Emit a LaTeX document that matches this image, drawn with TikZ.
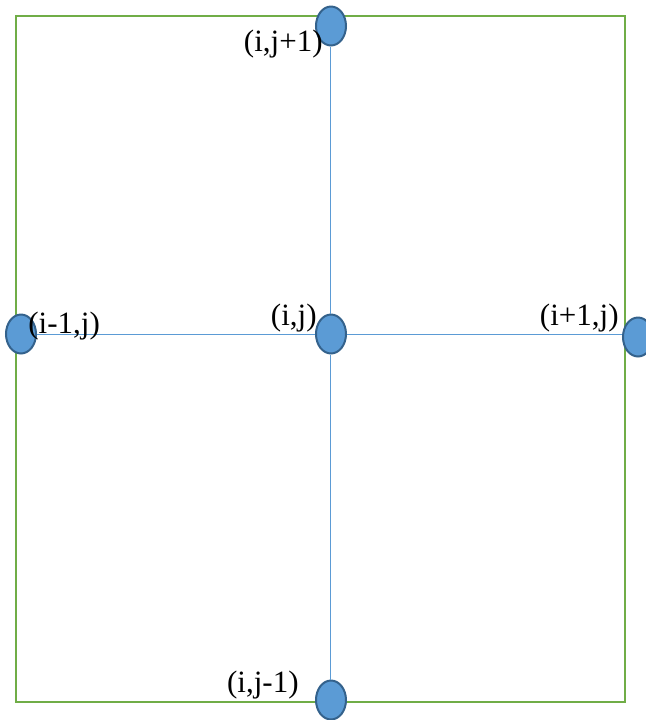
\documentclass[tikz,border=0pt]{standalone}
\usepackage{fontspec}
\setmainfont{Liberation Serif}
\usetikzlibrary{shapes.geometric}
\definecolor{framegreen}{RGB}{112,173,71}
\definecolor{dotblue}{RGB}{91,155,213}
\definecolor{dotedge}{RGB}{52,98,140}
\tikzstyle{gridpt} = [ellipse, fill=dotblue, draw=dotedge, line width=1pt, minimum width=15pt, minimum height=19.5pt, inner sep=0pt]
\tikzstyle{lbl} = [inner sep=0pt, font=\fontsize{15.5pt}{18pt}\selectfont]
\tikzstyle{link} = [draw=dotblue, line width=0.5pt]
\begin{document}
\begin{tikzpicture}[x=0.5pt, y=-0.5pt]
\useasboundingbox (0,0) rectangle (645,720);
%kader
\draw[framegreen, line width=1pt] (16,16) rectangle (625,702);
%punten
\node[gridpt] (top) at (331,26) {};
\node[gridpt] (left) at (21,334) {};
\node[gridpt] (mid) at (331,334) {};
\node[gridpt] (right) at (638,337) {};
\node[gridpt] (bottom) at (331,700) {};
%lijnen
\draw[link] (left) -- (mid);
\draw[link] (mid) -- (mid -| right.west);
\draw[link] (top) -- (mid);
\draw[link] (mid) -- (bottom);
%labels
\node[lbl, anchor=east] (ltop) at (323,44) {(i,j+1)};
\node[lbl, anchor=west] (lleft) at (28,326) {(i-1,j)};
\node[lbl, anchor=east] (lmid) at (317,318) {(i,j)};
\node[lbl, anchor=east] (lright) at (619,318) {(i+1,j)};
\node[lbl, anchor=east] (lbottom) at (299,685) {(i,j-1)};
\end{tikzpicture}
\end{document}
